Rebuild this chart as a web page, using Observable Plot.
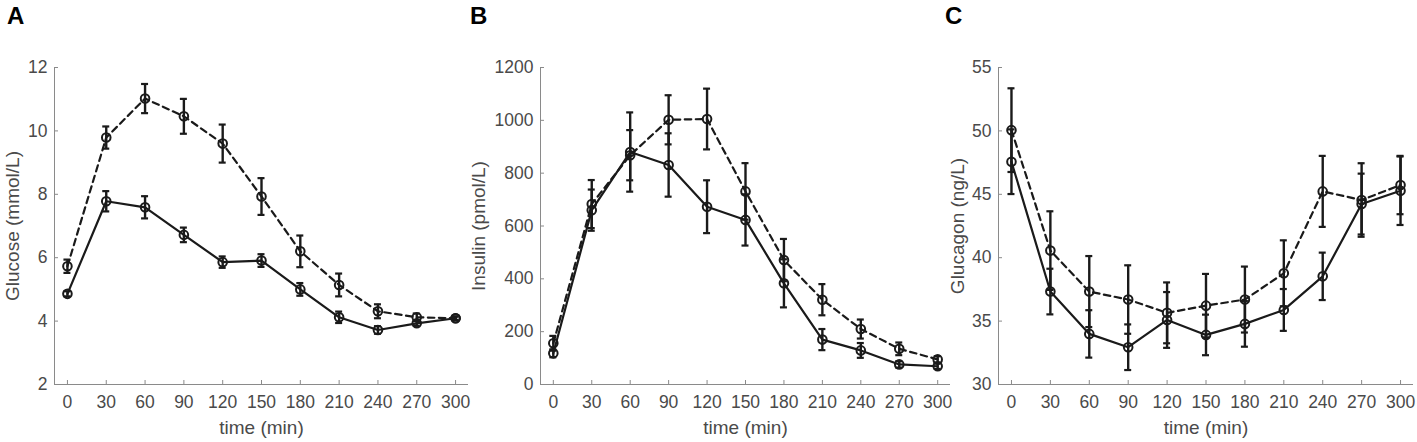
<!DOCTYPE html>
<html><head><meta charset="utf-8">
<script src="https://cdn.jsdelivr.net/npm/d3@7"></script>
<script src="https://cdn.jsdelivr.net/npm/@observablehq/plot@0.6"></script>
<style>
body{margin:0;background:#fff;}
#wrap{position:relative;width:1417px;height:442px;overflow:hidden;background:#fff;}
.panel{position:absolute;top:0;}
.panel svg{background:transparent !important;overflow:visible;}
.letter{position:absolute;top:4px;font:bold 24px "Liberation Sans",Arial,sans-serif;line-height:24px;color:#000;}
</style></head><body><div id="wrap"></div>
<script>
// ---- data ----
const time = [0, 30, 60, 90, 120, 150, 180, 210, 240, 270, 300];
const xTicks = [0, 30, 60, 90, 120, 150, 180, 210, 240, 270, 300];
const xDomain = [-10, 310];

const glucoseSolid    = [4.86, 7.78, 7.59, 6.72, 5.86, 5.91, 5.00, 4.12, 3.72, 3.93, 4.09];
const glucoseSolidErr = [0.08, 0.32, 0.35, 0.23, 0.18, 0.20, 0.20, 0.18, 0.12, 0.08, 0.05];
const glucoseDashed    = [5.73, 9.79, 11.02, 10.46, 9.60, 7.93, 6.20, 5.14, 4.31, 4.12, 4.09];
const glucoseDashedErr = [0.21, 0.35, 0.46, 0.55, 0.60, 0.58, 0.50, 0.36, 0.22, 0.12, 0.06];
const glucoseTicks = [2, 4, 6, 8, 10, 12];

const insulinSolid    = [118, 660, 880, 831, 673, 623, 383, 170, 129, 76, 69];
const insulinSolidErr = [15, 78, 150, 120, 100, 97, 91, 40, 28, 12, 10];
const insulinDashed    = [156, 683, 868, 1002, 1005, 731, 471, 321, 210, 135, 95];
const insulinDashedErr = [28, 91, 95, 93, 115, 107, 80, 59, 36, 24, 12];
const insulinTicks = [0, 200, 400, 600, 800, 1000, 1200];

const glucagonSolid    = [47.57, 37.33, 33.99, 32.94, 35.09, 33.91, 34.78, 35.88, 38.53, 44.23, 45.28];
const glucagonSolidErr = [2.55, 1.80, 1.87, 1.80, 2.20, 1.60, 1.80, 1.65, 1.87, 2.40, 2.70];
const glucagonDashed    = [50.06, 40.56, 37.33, 36.70, 35.65, 36.22, 36.70, 38.77, 45.23, 44.55, 45.73];
const glucagonDashedErr = [3.30, 3.10, 2.80, 2.70, 2.40, 2.50, 2.60, 2.60, 2.80, 2.90, 2.30];
const glucagonTicks = [30, 35, 40, 45, 50, 55];

// ---- drawing ----
const ink = "#1a1a1a";
const axisGray = "#8a8a8a";
const textGray = "#4a4a4a";
const tickFont = 17.5;
const labelFont = 19;

function rows(vals, errs) {
  return time.map((t, i) => ({t, v: vals[i], lo: vals[i] - errs[i], hi: vals[i] + errs[i]}));
}

function seriesMarks(data, dash) {
  return [
    Plot.line(data, {x: "t", y: "v", stroke: ink, strokeWidth: 2.2, strokeDasharray: dash}),
    Plot.ruleX(data, {x: "t", y1: "lo", y2: "hi", stroke: ink, strokeWidth: 2.4}),
    Plot.ruleY(data, {y: "lo", x1: "t", x2: "t", insetLeft: -3.5, insetRight: -3.5, stroke: ink, strokeWidth: 2.2}),
    Plot.ruleY(data, {y: "hi", x1: "t", x2: "t", insetLeft: -3.5, insetRight: -3.5, stroke: ink, strokeWidth: 2.2}),
    Plot.dot(data, {x: "t", y: "v", r: 4.3, stroke: ink, strokeWidth: 2, fill: "none"})
  ];
}

function panel(cfg) {
  const yDomain = [cfg.yTicks[0], cfg.yTicks[cfg.yTicks.length - 1]];
  return Plot.plot({
    width: cfg.width,
    height: 442,
    marginLeft: cfg.marginLeft,
    marginRight: cfg.marginRight,
    marginTop: 67,
    marginBottom: 58,
    style: {fontFamily: "'Liberation Sans', Arial, sans-serif", color: textGray, background: "transparent", overflow: "visible"},
    x: {domain: xDomain},
    y: {domain: yDomain},
    marks: [
      Plot.ruleY([yDomain[0]], {stroke: axisGray, strokeWidth: 1}),
      Plot.ruleX([xDomain[0]], {stroke: axisGray, strokeWidth: 1}),
      Plot.axisX({ticks: xTicks, tickSize: -4, label: null, stroke: axisGray, tickFormat: () => ""}),
      Plot.axisY({ticks: cfg.yTicks, tickSize: -4, label: null, stroke: axisGray, tickFormat: () => ""}),
      Plot.text(xTicks, {x: d => d, text: d => String(d), frameAnchor: "bottom", dy: 18, textAnchor: "middle", lineAnchor: "middle", fontSize: tickFont, fill: textGray}),
      Plot.text(cfg.yTicks, {y: d => d, text: d => String(d), frameAnchor: "left", dx: -7, textAnchor: "end", lineAnchor: "middle", fontSize: tickFont, fill: textGray}),
      Plot.text(["time (min)"], {text: d => d, frameAnchor: "bottom", dy: 43, textAnchor: "middle", lineAnchor: "middle", fontSize: labelFont, fill: textGray}),
      Plot.text([cfg.yLabel], {text: d => d, frameAnchor: "left", dx: -cfg.labelDx, rotate: -90, textAnchor: "middle", lineAnchor: "middle", fontSize: labelFont, fill: textGray}),
      ...seriesMarks(rows(cfg.dashed, cfg.dashedErr), "6.5,4.5"),
      ...seriesMarks(rows(cfg.solid, cfg.solidErr), null)
    ]
  });
}

const panels = [
  {left: 0, width: 470, marginLeft: 54, marginRight: 2, labelDx: 42, letter: "A", letterLeft: 7,
   yTicks: glucoseTicks, yLabel: "Glucose (mmol/L)",
   solid: glucoseSolid, solidErr: glucoseSolidErr, dashed: glucoseDashed, dashedErr: glucoseDashedErr},
  {left: 455, width: 501, marginLeft: 85, marginRight: 6, labelDx: 62, letter: "B", letterLeft: 470,
   yTicks: insulinTicks, yLabel: "Insulin (pmol/L)",
   solid: insulinSolid, solidErr: insulinSolidErr, dashed: insulinDashed, dashedErr: insulinDashedErr},
  {left: 944, width: 473, marginLeft: 54, marginRight: 4, labelDx: 41, letter: "C", letterLeft: 945,
   yTicks: glucagonTicks, yLabel: "Glucagon (ng/L)",
   solid: glucagonSolid, solidErr: glucagonSolidErr, dashed: glucagonDashed, dashedErr: glucagonDashedErr}
];

const wrap = document.getElementById("wrap");
for (const cfg of panels) {
  const div = document.createElement("div");
  div.className = "panel";
  div.style.left = cfg.left + "px";
  div.appendChild(panel(cfg));
  wrap.appendChild(div);
}
for (const cfg of panels) {
  const l = document.createElement("div");
  l.className = "letter";
  l.style.left = cfg.letterLeft + "px";
  l.textContent = cfg.letter;
  wrap.appendChild(l);
}
</script>
</body></html>
